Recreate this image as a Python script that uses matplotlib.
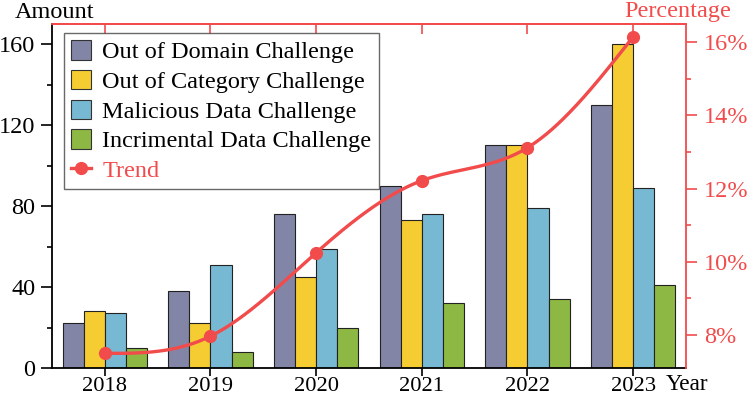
import numpy as np
import matplotlib
matplotlib.use("Agg")
import matplotlib.pyplot as plt
from matplotlib.patches import Patch
from matplotlib.lines import Line2D

years = ["2018", "2019", "2020", "2021", "2022", "2023"]
domain = [22, 38, 76, 90, 110, 130]
category = [28, 22, 45, 73, 110, 160]
malicious = [27, 51, 59, 76, 79, 89]
incremental = [10, 8, 20, 32, 34, 41]
trend = [7.5, 7.97, 10.25, 12.22, 13.12, 16.15]

series_names = ["Out of Domain Challenge", "Out of Category Challenge",
                "Malicious Data Challenge", "Incrimental Data Challenge"]
colors = ["#8385a6", "#f5cd33", "#77b9d3", "#8db843"]
red = "#f24b4b"

plt.rcParams['font.family'] = ['Liberation Serif', 'DejaVu Serif']
plt.rcParams['mathtext.fontset'] = 'stix'
FS = 17.5
XFS = 16.2

fig = plt.figure(figsize=(7.48, 3.98), dpi=100)
ax = fig.add_axes([52/748, 1-368/398, (686-52)/748, (368-24)/398])
x = np.arange(len(years))
w = 0.2
for i, (vals, c) in enumerate(zip([domain, category, malicious, incremental], colors)):
    ax.bar(x + (i - 1.5) * w, vals, w, color=c, edgecolor="#222222", linewidth=0.8, zorder=2)

ax.set_xlim(-0.5, 5.5)
ax.set_ylim(0, 170)
ax.set_xticks(x)
ax.set_xticklabels(years)
ax.set_yticks([0, 40, 80, 120, 160])
ax.set_yticks([20, 60, 100, 140], minor=True)
ax.tick_params(axis='x', which='major', labelsize=XFS, direction='out', length=6, width=1.2, pad=0.3)
ax.tick_params(axis='y', which='major', labelsize=FS, direction='out', length=8, width=1.2, pad=4)
ax.tick_params(axis='y', which='minor', direction='out', length=3.3, width=1.2)
for s in ['left', 'bottom']:
    ax.spines[s].set_linewidth(1.3)
ax.spines['top'].set_color(red)
ax.spines['top'].set_linewidth(1.3)
ax.spines['right'].set_visible(False)

# top ticks in red, pointing inward
axt = ax.secondary_xaxis('top')
axt.set_xticks(x)
axt.set_xticklabels([])
axt.tick_params(axis='x', direction='in', length=7, width=1.2, color=red)
axt.spines['top'].set_color(red)
axt.spines['top'].set_linewidth(1.3)

ax2 = ax.twinx()
ax2.set_ylim(7.1, 16.5)
ax2.set_yticks([8, 10, 12, 14, 16])
ax2.set_yticklabels([f"{v}%" for v in [8, 10, 12, 14, 16]])
ax2.set_yticks([9, 11, 13, 15], minor=True)
ax2.tick_params(axis='y', which='major', labelsize=FS, direction='out', length=8, width=1.2, colors=red, pad=5)
ax2.tick_params(axis='y', which='minor', direction='out', length=3.5, width=1.2, colors=red)
ax2.spines['right'].set_color(red)
ax2.spines['right'].set_linewidth(1.3)
for s in ['left', 'top', 'bottom']:
    ax2.spines[s].set_visible(False)

# natural cubic spline for smooth trend curve
def natural_spline(xp, yp, xs):
    xp = np.asarray(xp, float); yp = np.asarray(yp, float)
    n = len(xp)
    h = np.diff(xp)
    A = np.zeros((n, n)); b = np.zeros(n)
    A[0, 0] = 1; A[-1, -1] = 1
    for i in range(1, n - 1):
        A[i, i - 1] = h[i - 1]; A[i, i] = 2 * (h[i - 1] + h[i]); A[i, i + 1] = h[i]
        b[i] = 6 * ((yp[i + 1] - yp[i]) / h[i] - (yp[i] - yp[i - 1]) / h[i - 1])
    M = np.linalg.solve(A, b)
    idx = np.clip(np.searchsorted(xp, xs) - 1, 0, n - 2)
    x0 = xp[idx]; x1 = xp[idx + 1]; hh = x1 - x0
    t0 = x1 - xs; t1 = xs - x0
    return (M[idx] * t0**3 / (6 * hh) + M[idx + 1] * t1**3 / (6 * hh)
            + (yp[idx] / hh - M[idx] * hh / 6) * t0 + (yp[idx + 1] / hh - M[idx + 1] * hh / 6) * t1)

xs = np.linspace(x[0], x[-1], 300)
ax2.plot(xs, natural_spline(x, trend, xs), color=red, lw=2.4, zorder=3)
ax2.plot(x, trend, 'o', color=red, ms=8.5, zorder=4)

fig.text(15/748, 1-13/398, "Amount", fontsize=FS, va='center', ha='left')
fig.text(678/748, 1-12/398, "Percentage", fontsize=FS, va='center', ha='center', color=red)
fig.text(666/748, 1-385/398, "Year", fontsize=XFS + 0.5, va='center', ha='left')

handles = [Patch(facecolor=c, edgecolor="#333333", linewidth=0.8) for c in colors]
handles.append(Line2D([0], [0], color=red, lw=2.4, marker='o', ms=8.5))
leg = ax.legend(handles, series_names + ["Trend"], loc='upper left', bbox_to_anchor=(12/634, 1-9/344),
                fontsize=FS, frameon=True, fancybox=False, edgecolor="#444444",
                handlelength=0.82, handleheight=0.85, handletextpad=0.45, labelspacing=0.27,
                borderpad=0.3, borderaxespad=0)
leg.get_frame().set_linewidth(1.0)
leg.texts[-1].set_color(red)
leg.set_zorder(5)

fig.savefig("out.png", dpi=100)
